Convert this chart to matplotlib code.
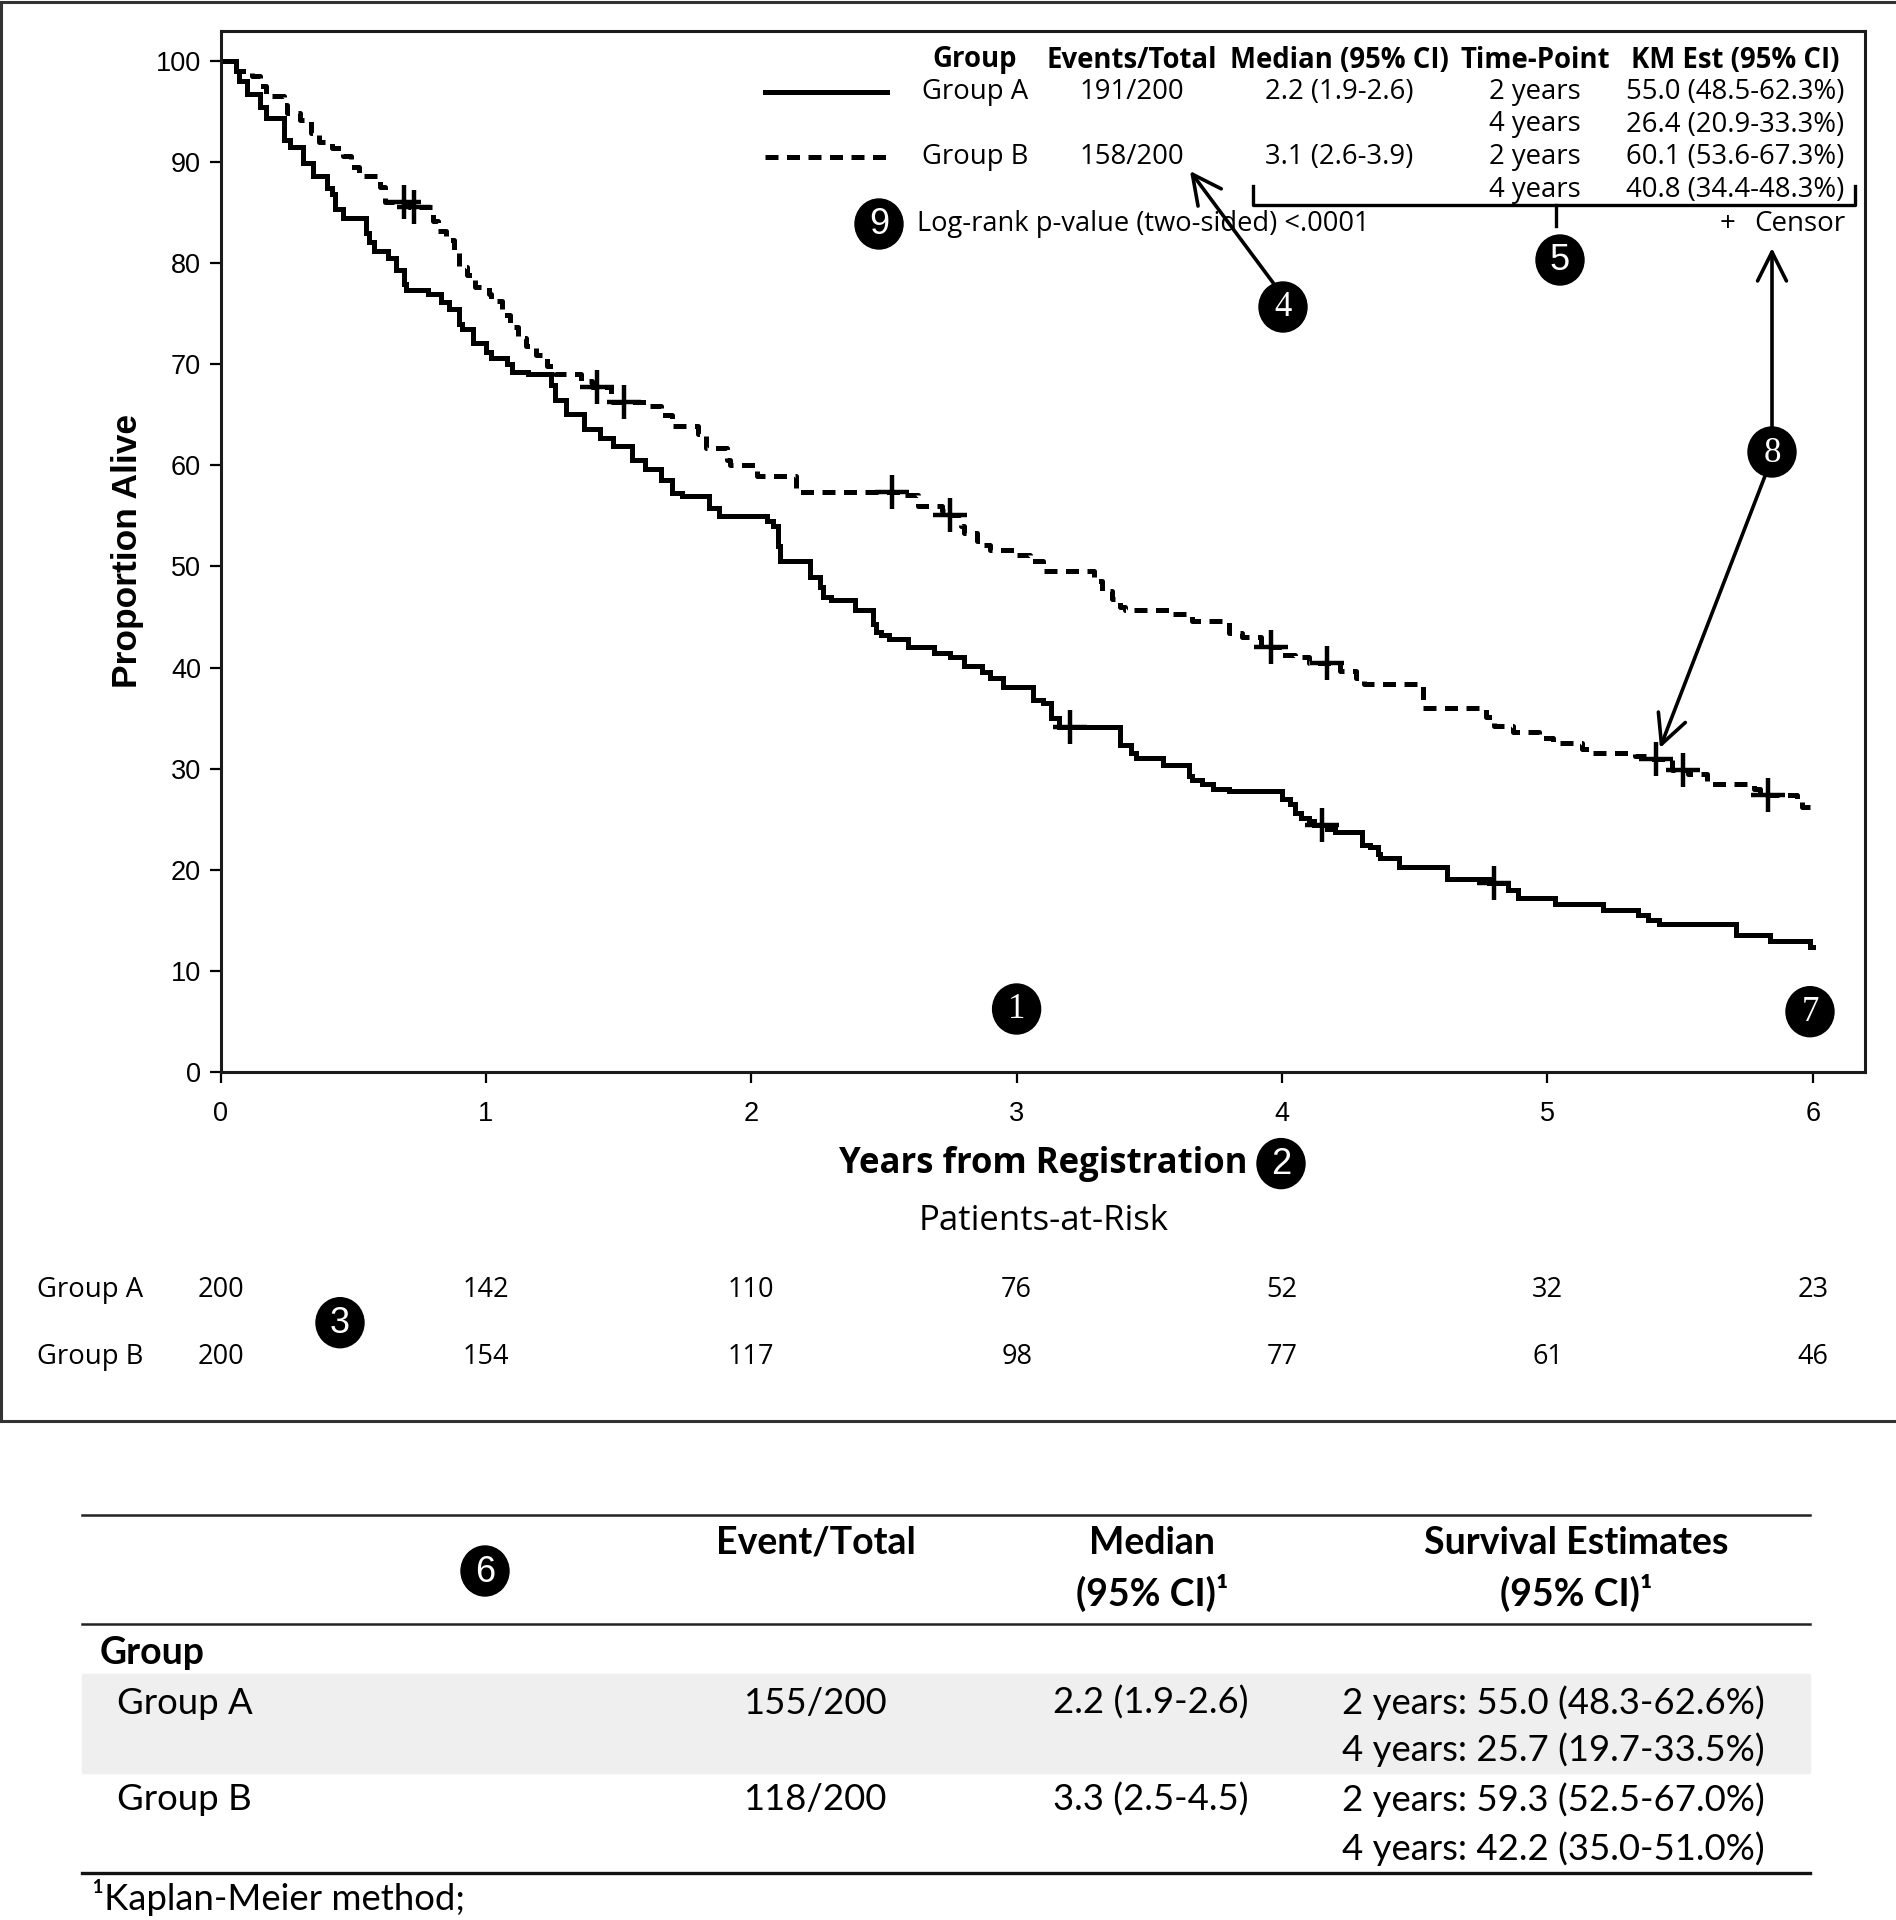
import numpy as np
import matplotlib
matplotlib.use("Agg")
import matplotlib.pyplot as plt
from matplotlib.patches import Ellipse, Rectangle
from matplotlib.transforms import blended_transform_factory

plt.rcParams['font.family'] = ['Liberation Sans', 'DejaVu Sans']

# Kaplan-Meier steps: time (years) of each drop, survival (%) after it
grpA_time = [0, 0.06, 0.07, 0.10, 0.15, 0.17, 0.24, 0.26, 0.31, 0.35, 0.40, 0.42, 0.43, 0.46,
             0.55, 0.56, 0.58, 0.63, 0.66, 0.69, 0.70, 0.78, 0.83, 0.86, 0.90, 0.91, 0.95,
             1.00, 1.02, 1.08, 1.10, 1.16, 1.245, 1.26, 1.30, 1.37, 1.43, 1.48, 1.55, 1.60,
             1.66, 1.70, 1.74, 1.84, 1.88, 2.06, 2.08, 2.10, 2.11, 2.22, 2.26, 2.27, 2.30,
             2.39, 2.46, 2.47, 2.49, 2.52, 2.59, 2.69, 2.75, 2.80, 2.87, 2.90, 2.95, 3.06,
             3.10, 3.13, 3.16, 3.39, 3.43, 3.45, 3.55, 3.65, 3.66, 3.70, 3.74, 3.80, 4.00,
             4.03, 4.05, 4.07, 4.10, 4.12, 4.17, 4.20, 4.30, 4.33, 4.36, 4.37, 4.44, 4.62,
             4.78, 4.85, 4.89, 5.03, 5.21, 5.34, 5.38, 5.42, 5.71, 5.84, 5.99]
grpA_surv = [100, 99.0, 98.0, 96.8, 95.5, 94.4, 92.2, 91.5, 89.9, 88.6, 87.5, 86.9, 85.4, 84.5,
             83.0, 82.1, 81.2, 80.5, 79.3, 78.0, 77.4, 77.0, 76.2, 75.5, 74.0, 73.5, 72.1,
             71.2, 70.6, 70.0, 69.2, 69.0, 68.0, 66.5, 65.1, 63.6, 62.7, 61.9, 60.5, 59.6,
             58.6, 57.3, 57.0, 55.8, 55.0, 54.5, 54.0, 52.0, 50.5, 49.0, 48.0, 47.0, 46.7,
             45.7, 44.3, 43.5, 43.2, 42.8, 42.0, 41.4, 41.0, 40.1, 39.6, 39.0, 38.1, 36.8,
             36.5, 35.0, 34.1, 32.3, 31.5, 31.0, 30.4, 29.3, 28.9, 28.5, 28.0, 27.8, 27.0,
             26.5, 25.6, 25.1, 24.8, 24.4, 24.0, 23.7, 22.4, 22.2, 21.5, 21.1, 20.3, 19.1,
             18.7, 18.0, 17.2, 16.6, 16.0, 15.5, 15.0, 14.6, 13.5, 12.9, 12.3]
grpB_time = [0, 0.06, 0.12, 0.15, 0.17, 0.24, 0.25, 0.30, 0.34, 0.37, 0.42, 0.46, 0.49, 0.52,
             0.60, 0.62, 0.71, 0.80, 0.82, 0.85, 0.88, 0.90, 0.93, 0.96, 1.01, 1.02, 1.06,
             1.09, 1.12, 1.15, 1.19, 1.23, 1.26, 1.36, 1.40, 1.47, 1.62, 1.66, 1.70, 1.80,
             1.83, 1.91, 1.92, 2.02, 2.17, 2.58, 2.63, 2.72, 2.74, 2.79, 2.80, 2.85, 2.87,
             2.90, 3.00, 3.05, 3.10, 3.29, 3.32, 3.36, 3.39, 3.41, 3.58, 3.66, 3.80, 3.85,
             3.92, 4.00, 4.05, 4.10, 4.22, 4.28, 4.31, 4.53, 4.77, 4.80, 4.87, 4.97, 5.02,
             5.13, 5.17, 5.33, 5.38, 5.47, 5.53, 5.60, 5.78, 5.80, 5.94, 5.96]
grpB_surv = [100, 99.0, 98.5, 97.5, 96.6, 95.7, 94.9, 94.2, 92.9, 92.0, 91.4, 90.6, 89.5, 88.6,
             87.6, 86.1, 85.6, 84.2, 83.2, 82.3, 81.1, 79.6, 78.8, 77.7, 77.0, 76.3, 74.9,
             73.7, 72.6, 71.8, 70.9, 69.8, 69.0, 68.4, 67.8, 66.3, 65.9, 65.0, 63.9, 63.1,
             61.7, 60.5, 60.0, 59.0, 57.4, 57.1, 56.0, 55.5, 55.1, 54.0, 53.3, 52.5, 52.1,
             51.6, 51.1, 50.5, 49.6, 48.6, 47.6, 46.8, 46.0, 45.7, 45.3, 44.6, 43.4, 43.0,
             42.0, 41.2, 41.0, 40.4, 39.7, 39.0, 38.4, 36.0, 35.1, 34.2, 33.6, 33.0, 32.5,
             31.9, 31.5, 31.2, 30.9, 29.9, 29.5, 28.5, 28.0, 27.4, 26.7, 26.2]
grpA_censor = [3.20, 4.15, 4.80]
grpB_censor = [0.69, 0.73, 1.42, 1.52, 2.53, 2.75, 3.96, 4.17, 5.41, 5.51, 5.83]
end_time = 6.0

years = [0, 1, 2, 3, 4, 5, 6]
yticks = [0, 10, 20, 30, 40, 50, 60, 70, 80, 90, 100]
at_risk_A = [200, 142, 110, 76, 52, 32, 23]
at_risk_B = [200, 154, 117, 98, 77, 61, 46]
risk_groups = ["Group A", "Group B"]

legend_header = ["Group", "Events/Total", "Median (95% CI)", "Time-Point", "KM Est (95% CI)"]
legend_events = ["191/200", "158/200"]
legend_median = ["2.2 (1.9-2.6)", "3.1 (2.6-3.9)"]
legend_timepoints = ["2 years", "4 years"]
legend_km = [["55.0 (48.5-62.3%)", "26.4 (20.9-33.3%)"],
             ["60.1 (53.6-67.3%)", "40.8 (34.4-48.3%)"]]
logrank_text = "Log-rank p-value (two-sided) <.0001"

table_header = [["Event/Total"], ["Median", "(95% CI)\u00b9"], ["Survival Estimates", "(95% CI)\u00b9"]]
table_events = ["155/200", "118/200"]
table_median = ["2.2 (1.9-2.6)", "3.3 (2.5-4.5)"]
table_surv = [["2 years: 55.0 (48.3-62.6%)", "4 years: 25.7 (19.7-33.5%)"],
              ["2 years: 59.3 (52.5-67.0%)", "4 years: 42.2 (35.0-51.0%)"]]
footnote = "\u00b9Kaplan-Meier method;"

W, H = 1896, 1920
fig = plt.figure(figsize=(W / 100, H / 100), dpi=100)

# main KM axes
ax = fig.add_axes([220.5 / W, 1 - 1071.7 / H, (1865.4 - 220.5) / W, (1071.7 - 30.6) / H])
ax.set_xlim(0, 6.198)
ax.set_ylim(0, 103.03)

solid = dict(color='black', lw=3.6, solid_joinstyle='miter')
dashed = dict(color='black', lw=3.6, linestyle=(0, (2.6, 1.7)))

def surv_at(times, surv, t):
    i = np.searchsorted(times, t, side='right') - 1
    return surv[i]

ax.step(grpA_time + [end_time], grpA_surv + [grpA_surv[-1]], where='post', **solid)
ax.step(grpB_time + [end_time], grpB_surv + [grpB_surv[-1]], where='post', **dashed)
ax.plot(grpA_censor, [surv_at(grpA_time, grpA_surv, t) for t in grpA_censor],
        ls='none', marker='+', ms=24, mew=3.2, color='black')
ax.plot(grpB_censor, [surv_at(grpB_time, grpB_surv, t) for t in grpB_censor],
        ls='none', marker='+', ms=24, mew=3.2, color='black')

ax.set_xticks(years)
ax.set_yticks(yticks)
ax.tick_params(axis='both', direction='out', length=8, width=1.6, labelsize=19.5)
ax.tick_params(axis='x', pad=13)
ax.tick_params(axis='y', pad=6)
for s in ax.spines.values():
    s.set_linewidth(2.2)
    s.set_color('#1a1a1a')
ax.text(-0.0568, 0.5, "Proportion Alive", transform=ax.transAxes, rotation=90,
        ha='center', va='center', fontsize=25.5, fontweight='bold')

# patients-at-risk numbers placed under the x axis ticks
tr = blended_transform_factory(ax.transData, ax.transAxes)
for yy, vals in zip([-0.2094, -0.274], [at_risk_A, at_risk_B]):
    for t, v in zip(years, vals):
        ax.text(t, yy, str(v), transform=tr, ha='center', va='center',
                fontsize=19.5, family='Open Sans', clip_on=False)

# overlay in pixel coordinates for annotations and the summary table
ov = fig.add_axes([0, 0, 1, 1], zorder=5)
ov.set_xlim(0, W)
ov.set_ylim(H, 0)
ov.axis('off')
ov.patch.set_visible(False)

# outer frame of the figure panel
ov.plot([1, W], [2, 2], color='#333333', lw=2.2)
ov.plot([1.5, 1.5], [2, 1421], color='#333333', lw=2.2)
ov.plot([1, W], [1421, 1421], color='#333333', lw=2.2)

for grp, yy in zip(risk_groups, [1289.7, 1357]):
    ov.text(36.7, yy, grp, ha='left', va='center', fontsize=19.8, family='Open Sans')

ov.text(1043, 1163.5, "Years from Registration", ha='center', va='center',
        fontsize=25, fontweight='bold', family='Open Sans')
ov.text(1043.5, 1221, "Patients-at-Risk", ha='center', va='center', fontsize=25, family='Open Sans')

# in-plot legend table
col_x = [975, 1131.5, 1339, 1535, 1735]
for x, h in zip(col_x, legend_header):
    ov.text(x, 60, h, ha='center', va='center', fontsize=19.8, fontweight='bold', family='Open Sans')
row_y = [[91.7, 124.5], [157, 190]]
for g, style in enumerate([solid, dashed]):
    y0, y1 = row_y[g]
    ov.plot([765, 887], [y0, y0], **style)
    ov.text(col_x[0], y0, risk_groups[g], ha='center', va='center', fontsize=19.8, family='Open Sans')
    ov.text(col_x[1], y0, legend_events[g], ha='center', va='center', fontsize=19.8, family='Open Sans')
    ov.text(col_x[2], y0, legend_median[g], ha='center', va='center', fontsize=19.8, family='Open Sans')
    for yy, tp, km in zip([y0, y1], legend_timepoints, legend_km[g]):
        ov.text(col_x[3], yy, tp, ha='center', va='center', fontsize=19.8, family='Open Sans')
        ov.text(col_x[4], yy, km, ha='center', va='center', fontsize=19.8, family='Open Sans')
ov.text(917, 224, logrank_text, ha='left', va='center', fontsize=19.6, family='Open Sans')
ov.text(1728, 224, "+", ha='center', va='center', fontsize=20, family='Open Sans')
ov.text(1845, 224, "Censor", ha='right', va='center', fontsize=20, family='Open Sans')

# bracket under the time-point estimates
ov.plot([1253, 1253, 1855, 1855], [186, 205, 205, 186], color='black', lw=2.4)
ov.plot([1556, 1556], [205, 226], color='black', lw=2.4)

# arrows
arrow = dict(arrowstyle='->,head_length=0.8,head_width=0.4', lw=2.6, color='black',
             mutation_scale=26, shrinkA=0, shrinkB=0)
ov.annotate('', xy=(1190, 171), xytext=(1274, 284), arrowprops=arrow)
ov.annotate('', xy=(1772, 248), xytext=(1772, 428), arrowprops=arrow)
ov.annotate('', xy=(1660, 748), xytext=(1765, 476), arrowprops=arrow)

# numbered callouts
callouts = [("1", 1016.6, 1009, 'serif'), ("2", 1281, 1163.6, 'sans'), ("3", 340, 1322.7, 'sans'),
            ("4", 1283, 307, 'serif'), ("5", 1560, 260, 'sans'), ("6", 485, 1571, 'sans'),
            ("7", 1810, 1011.7, 'serif'), ("8", 1772, 452, 'serif'), ("9", 879, 224, 'sans')]
for num, cx, cy, kind in callouts:
    ov.add_patch(Ellipse((cx, cy), 48, 50, color='black', zorder=6))
    if kind == 'serif':
        ov.text(cx, cy + 1, num, color='white', ha='center', va='center', fontsize=25,
                family='Liberation Serif', zorder=7)
    else:
        ov.text(cx, cy + 1, num, color='white', ha='center', va='center', fontsize=26,
                family='Liberation Sans', zorder=7)

# summary table below the figure
ov.plot([82, 1810], [1514.5, 1514.5], color='#222222', lw=1.8)
ov.plot([82, 1810], [1624, 1624], color='#222222', lw=1.8)
ov.plot([82, 1810], [1873, 1873], color='#111111', lw=2.4)
ov.add_patch(Rectangle((82, 1674), 1728, 99, color='#efefef', zorder=0))

head_x = [816, 1152, 1576]
for x, lines in zip(head_x, table_header):
    for k, line in enumerate(lines):
        ov.text(x, 1543 + 50 * k, line, ha='center', va='center', fontsize=27,
                fontweight='bold', family='Lato')
ov.text(100, 1653, "Group", ha='left', va='center', fontsize=27, fontweight='bold', family='Lato')
for g, (y0, y1) in enumerate([(1703, 1750), (1800, 1849)]):
    ov.text(117, y0, risk_groups[g], ha='left', va='center', fontsize=26.3, family='Lato')
    ov.text(815, y0, table_events[g], ha='center', va='center', fontsize=26.3, family='Lato')
    ov.text(1150.5, y0, table_median[g], ha='center', va='center', fontsize=26.3, family='Lato')
    for yy, s in zip([y0, y1], table_surv[g]):
        ov.text(1342, yy, s, ha='left', va='center', fontsize=26.3, family='Lato')
ov.text(92, 1898, footnote, ha='left', va='center', fontsize=26.3, family='Lato')

fig.savefig("out.png", dpi=100)
